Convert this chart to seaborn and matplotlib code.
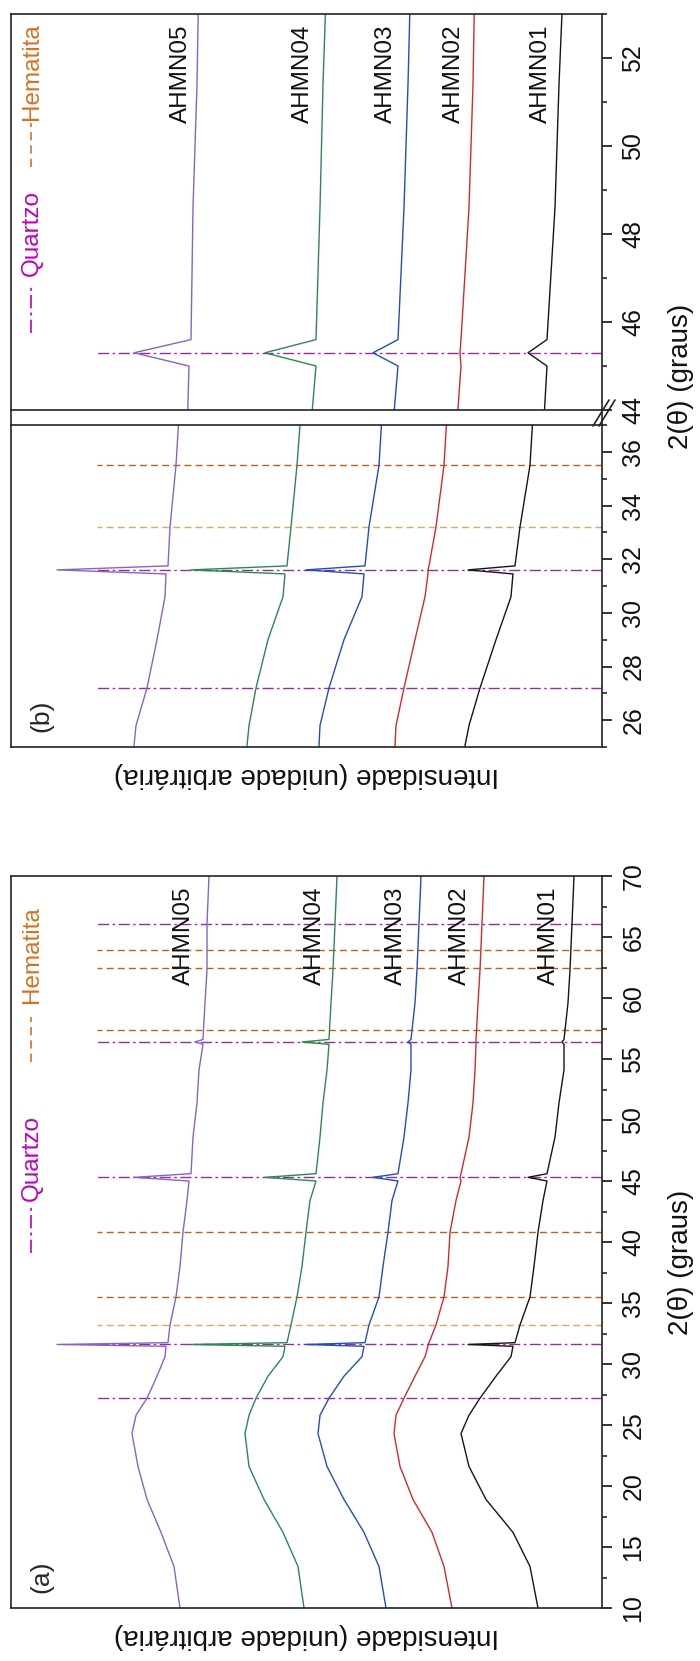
import matplotlib
matplotlib.use("Agg")
import matplotlib.pyplot as plt
from matplotlib.lines import Line2D
import numpy as np
import pandas as pd
import seaborn as sns

# ---------------- data ----------------
two_theta = [10.0, 13.4, 16.2, 18.9, 21.6, 24.3, 25.8, 27.2, 29.0, 30.6, 31.45, 31.6, 31.75,
             33.2, 35.5, 38.0, 40.8, 43.4, 45.0, 45.3, 45.6, 48.6, 51.4, 54.1, 56.2, 56.4,
             56.6, 59.6, 62.3, 66.1, 70.0]
ahmn05 = [422, 428, 441, 455, 464, 470, 466, 455, 445, 437, 436, 545, 434, 432, 426, 422, 419,
          415, 413, 468, 411, 409, 405, 403, 399, 407, 399, 397, 395, 395, 393]
ahmn04 = [298, 304, 319, 338, 353, 357, 353, 346, 334, 319, 317, 411, 315, 311, 305, 300, 296,
          292, 286, 337, 286, 282, 279, 275, 273, 300, 273, 271, 269, 267, 265]
ahmn03 = [216, 223, 238, 258, 275, 284, 282, 273, 258, 240, 238, 296, 237, 233, 223, 219, 214,
          210, 204, 229, 204, 198, 194, 191, 191, 194, 191, 187, 185, 183, 181]
ahmn02 = [150, 158, 170, 189, 202, 208, 206, 198, 187, 177, 174, 174, 173, 166, 158, 154, 152,
          146, 141, 142, 141, 133, 129, 127, 126, 126, 126, 124, 122, 120, 118]
ahmn01 = [64, 72, 89, 116, 133, 141, 133, 122, 106, 91, 89, 134, 87, 82, 72, 68, 64,
          59, 55, 74, 55, 47, 43, 38, 38, 40, 38, 34, 32, 30, 28]

sample_names = ["AHMN05", "AHMN04", "AHMN03", "AHMN02", "AHMN01"]
quartzo_pos = [27.2, 31.6, 45.3, 56.4, 66.1]
hematita_pos = [33.2, 35.5, 40.8, 57.4, 62.5, 63.9]

ticks_a_major = [10, 15, 20, 25, 30, 35, 40, 45, 50, 55, 60, 65, 70]
ticks_a_minor = [12.5, 17.5, 22.5, 27.5, 32.5, 37.5, 42.5, 47.5, 52.5, 57.5, 62.5, 67.5]
ticks_b_low_major = [26, 28, 30, 32, 34, 36]
ticks_b_low_minor = [25, 27, 29, 31, 33, 35, 37]
ticks_b_up_major = [44, 46, 48, 50, 52]
ticks_b_up_minor = [45, 47, 49, 51, 53]

# ---------------- styling ----------------
sns.set_style("white")
plt.rcParams["font.family"] = ["Liberation Sans", "DejaVu Sans"]

colors = {"AHMN05": "#8a62c6", "AHMN04": "#2a8a4e", "AHMN03": "#1f4fbd",
          "AHMN02": "#d22a2a", "AHMN01": "#161616"}
q_col = "#9a2a9e"
h_col = "#c0601c"
h_col_light = "#e3a565"
q_dash = (0, (8, 2.5, 1.8, 2.5))
h_dash = (0, (5, 3))

series = [ahmn05, ahmn04, ahmn03, ahmn02, ahmn01]
df = pd.concat([pd.DataFrame({"two_theta": two_theta, "intensity": s, "sample": n})
                for n, s in zip(sample_names, series)], ignore_index=True)

W, H = 700, 1661
fig = plt.figure(figsize=(W / 100, H / 100), dpi=100)


def fig_rect(left, top, right, bottom):
    return [left / W, 1 - bottom / H, (right - left) / W, (bottom - top) / H]


ax_a = fig.add_axes(fig_rect(11, 876, 602, 1608))
ax_bu = fig.add_axes(fig_rect(11, 14, 602, 410))
ax_bl = fig.add_axes(fig_rect(11, 425, 602, 747))

I_MAX = 591
LINE_END = 505


def draw_panel(ax, ylim, major, minor):
    sns.lineplot(data=df, x="intensity", y="two_theta", hue="sample", palette=colors,
                 sort=False, estimator=None, legend=False, linewidth=1.0, ax=ax)
    for p in quartzo_pos:
        if ylim[0] <= p <= ylim[1]:
            ax.hlines(p, 0, LINE_END, colors=q_col, linestyles=q_dash, lw=1.0, zorder=1)
    for i, p in enumerate(hematita_pos):
        if ylim[0] <= p <= ylim[1]:
            c = h_col_light if i == 0 else h_col
            ax.hlines(p, 0, LINE_END, colors=c, linestyles=h_dash, lw=1.0, zorder=1)
    ax.set_xlim(I_MAX, 0)
    ax.set_ylim(*ylim)
    ax.set_xticks([])
    ax.set_xlabel("")
    ax.set_ylabel("")
    ax.yaxis.tick_right()
    ax.set_yticks(major)
    ax.set_yticks(minor, minor=True)
    ax.tick_params(axis="y", which="major", direction="out", length=7, width=1.2,
                   labelsize=18, pad=7, left=False, right=True, labelleft=False,
                   labelright=True, labelrotation=90, colors="#111")
    ax.tick_params(axis="y", which="minor", direction="out", length=3.5, width=1.2,
                   left=False, right=True)
    for lbl in ax.get_yticklabels():
        lbl.set_va("center")
        lbl.set_ha("left")
    for s in ax.spines.values():
        s.set_linewidth(1.2)
        s.set_color("#222222")


draw_panel(ax_a, (10, 70), ticks_a_major, ticks_a_minor)
draw_panel(ax_bu, (44, 53), ticks_b_up_major, ticks_b_up_minor)
draw_panel(ax_bl, (25, 37), ticks_b_low_major, ticks_b_low_minor)

# sample labels
lab_a = {"AHMN05": 418, "AHMN04": 287, "AHMN03": 206, "AHMN02": 142, "AHMN01": 53}
lab_b = {"AHMN05": 421, "AHMN04": 299, "AHMN03": 216, "AHMN02": 148, "AHMN01": 61}
for n in sample_names:
    ax_a.text(lab_a[n], 69.1, n, rotation=90, ha="center", va="top", fontsize=17.5,
              color="#111")
    ax_bu.text(lab_b[n], 52.75, n, rotation=90, ha="center", va="top", fontsize=17.5,
               color="#111")


# legends (text + line sample)
def legend(ax, hem_text_y, hem_line, qz_text_y, qz_line):
    ax.text(0.036, hem_text_y, "Hematita", transform=ax.transAxes, rotation=90,
            ha="center", va="center", fontsize=17.5, color="#d9701f")
    ax.add_line(Line2D([0.034, 0.034], hem_line, transform=ax.transAxes,
                       color="#d9701f", lw=1.2, linestyle=h_dash))
    ax.text(0.036, qz_text_y, "Quartzo", transform=ax.transAxes, rotation=90,
            ha="center", va="center", fontsize=17.5, color="#c000c0")
    ax.add_line(Line2D([0.034, 0.034], qz_line, transform=ax.transAxes,
                       color="#c000c0", lw=1.2, linestyle=q_dash))


legend(ax_a, 0.893, [0.746, 0.807], 0.615, [0.485, 0.551])
legend(ax_bu, 0.855, [0.614, 0.725], 0.446, [0.194, 0.311])

ax_a.text(0.052, 0.043, "(a)", transform=ax_a.transAxes, rotation=90, ha="center",
          va="center", fontsize=19)
ax_bl.text(0.051, 0.096, "(b)", transform=ax_bl.transAxes, rotation=90, ha="center",
           va="center", fontsize=19)

# axis titles
fig.text(681 / W, 1 - 1262 / H, "2(θ) (graus)", rotation=90, ha="center", va="center",
         fontsize=20, color="#111")
fig.text(681 / W, 1 - 376 / H, "2(θ) (graus)", rotation=90, ha="center", va="center",
         fontsize=20, color="#111")
fig.text(306 / W, 1 - 1636 / H, "Intensidade (unidade arbitrária)", rotation=180,
         ha="center", va="center", fontsize=20, color="#111")
fig.text(306 / W, 1 - 775 / H, "Intensidade (unidade arbitrária)", rotation=180,
         ha="center", va="center", fontsize=20, color="#111")

# continuous side frame across the break in (b)
for xp in (11, 602):
    fig.add_artist(Line2D([xp / W, xp / W], [1 - 425 / H, 1 - 410 / H],
                          transform=fig.transFigure, color="#222222", lw=1.2))
# break marks //
for dx in (0, 6):
    fig.add_artist(Line2D([(593 + dx) / W, (609 + dx) / W], [1 - 426 / H, 1 - 400 / H],
                          transform=fig.transFigure, color="#222222", lw=1.2))

fig.savefig("out.png", dpi=100, facecolor="white")
